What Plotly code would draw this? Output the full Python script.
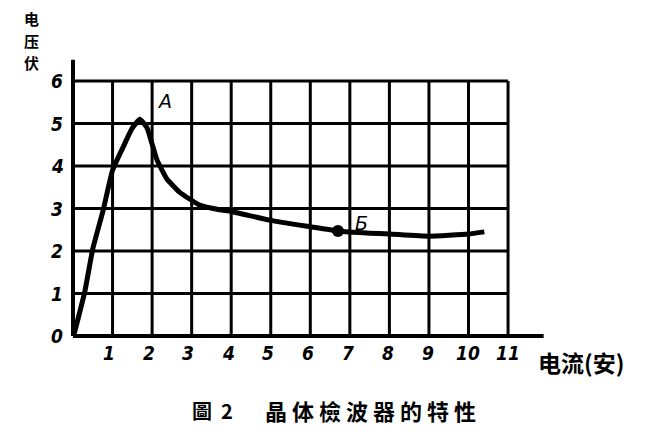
import plotly.graph_objects as go

# 晶体检波器特性曲线
current = [0.03, 0.3, 0.5, 0.76, 1.0, 1.27, 1.49, 1.69, 1.87, 2.12, 2.37, 2.7, 3.2, 3.7,
           4.0, 5.0, 6.0, 6.7, 7.5, 8.0, 9.0, 10.0, 10.4]
voltage = [0.05, 1.05, 2.05, 2.95, 3.9, 4.45, 4.88, 5.1, 4.9, 4.15, 3.7, 3.38, 3.08, 2.97,
           2.93, 2.72, 2.57, 2.47, 2.42, 2.40, 2.35, 2.40, 2.45]

x_ticks = list(range(1, 12))
y_ticks = list(range(0, 7))
point_b = (6.7, 2.47)

# 页面 body 有 8px 边距, 图尺寸与坐标按此扣除
W, H, OFF = 630, 422, 8
X0, Y0, SX, SY = 73 - OFF, 336 - OFF, 39.55, 42.5

fig = go.Figure()

# 网格
gx, gy = [], []
for v in x_ticks:
    gx += [v, v, None]
    gy += [0, 6, None]
for v in y_ticks[1:]:
    gx += [0, 11, None]
    gy += [v, v, None]
fig.add_trace(go.Scatter(x=gx, y=gy, mode="lines", line=dict(color="black", width=3),
                         hoverinfo="skip"))

# 坐标轴
fig.add_trace(go.Scatter(x=[0, 0, None, 0, 11.9], y=[6.5, 0, None, 0, 0], mode="lines",
                         line=dict(color="black", width=4), hoverinfo="skip"))

# 曲线
fig.add_trace(go.Scatter(x=current, y=voltage, mode="lines",
                         line=dict(color="black", width=5, shape="spline", smoothing=0.4)))
fig.add_trace(go.Scatter(x=[point_b[0]], y=[point_b[1]], mode="markers",
                         marker=dict(color="black", size=12)))

num_font = dict(family="Liberation Sans Narrow, DejaVu Sans Condensed, DejaVu Sans",
                size=19, color="black", style="italic", weight="bold")
ann = []
for v in x_ticks:
    ann.append(dict(x=v - 0.1 + 0.1 * (v - 1) / 10, y=-0.4, text=str(v), showarrow=False,
                    font=num_font))
for v in y_ticks:
    ann.append(dict(x=-0.4, y=v, text=str(v), showarrow=False, font=num_font))

letter_font = dict(family="DejaVu Sans", size=19, color="black", style="italic")
ann.append(dict(x=2.32, y=5.53, text="A", showarrow=False, font=letter_font))
ann.append(dict(x=7.3, y=2.65, text="Б", showarrow=False, font=letter_font))

cjk = dict(family="Noto Sans CJK SC", color="black", weight="bold")
ann.append(dict(x=581, y=362, xref="paper", yref="paper", text="电流(安)", showarrow=False,
                xanchor="center", yanchor="middle", font=dict(cjk, size=23)))
for i, ch in enumerate(["电", "压", "伏"]):
    ann.append(dict(x=31, y=19 + 22 * i, xref="paper", yref="paper", text=ch,
                    showarrow=False, xanchor="center", yanchor="middle",
                    font=dict(cjk, size=15)))
ann.append(dict(x=190, y=410, xref="paper", yref="paper", text="圖\u00a0\u00a02", showarrow=False,
                xanchor="left", yanchor="middle",
                font=dict(cjk, family="Noto Sans CJK TC", size=20)))
ann.append(dict(x=263, y=410, xref="paper", yref="paper", text="晶 体 檢 波 器 的 特 性",
                showarrow=False, xanchor="left", yanchor="middle",
                font=dict(cjk, family="Noto Sans CJK TC", size=22)))

# 像素坐标换算为 paper 坐标
for a in ann:
    if a.get("xref") == "paper":
        a["x"] = (a["x"] - OFF) / W
        a["y"] = 1 - (a["y"] - OFF) / H

fig.update_layout(
    width=W, height=H, autosize=False,
    margin=dict(l=0, r=0, t=0, b=0, pad=0, autoexpand=False),
    paper_bgcolor="white", plot_bgcolor="white",
    showlegend=False,
    annotations=ann,
    xaxis=dict(range=[-X0 / SX, (W - X0) / SX], visible=False, fixedrange=True),
    yaxis=dict(range=[-(H - Y0) / SY, Y0 / SY], visible=False, fixedrange=True),
)

fig.write_html("out.html")
